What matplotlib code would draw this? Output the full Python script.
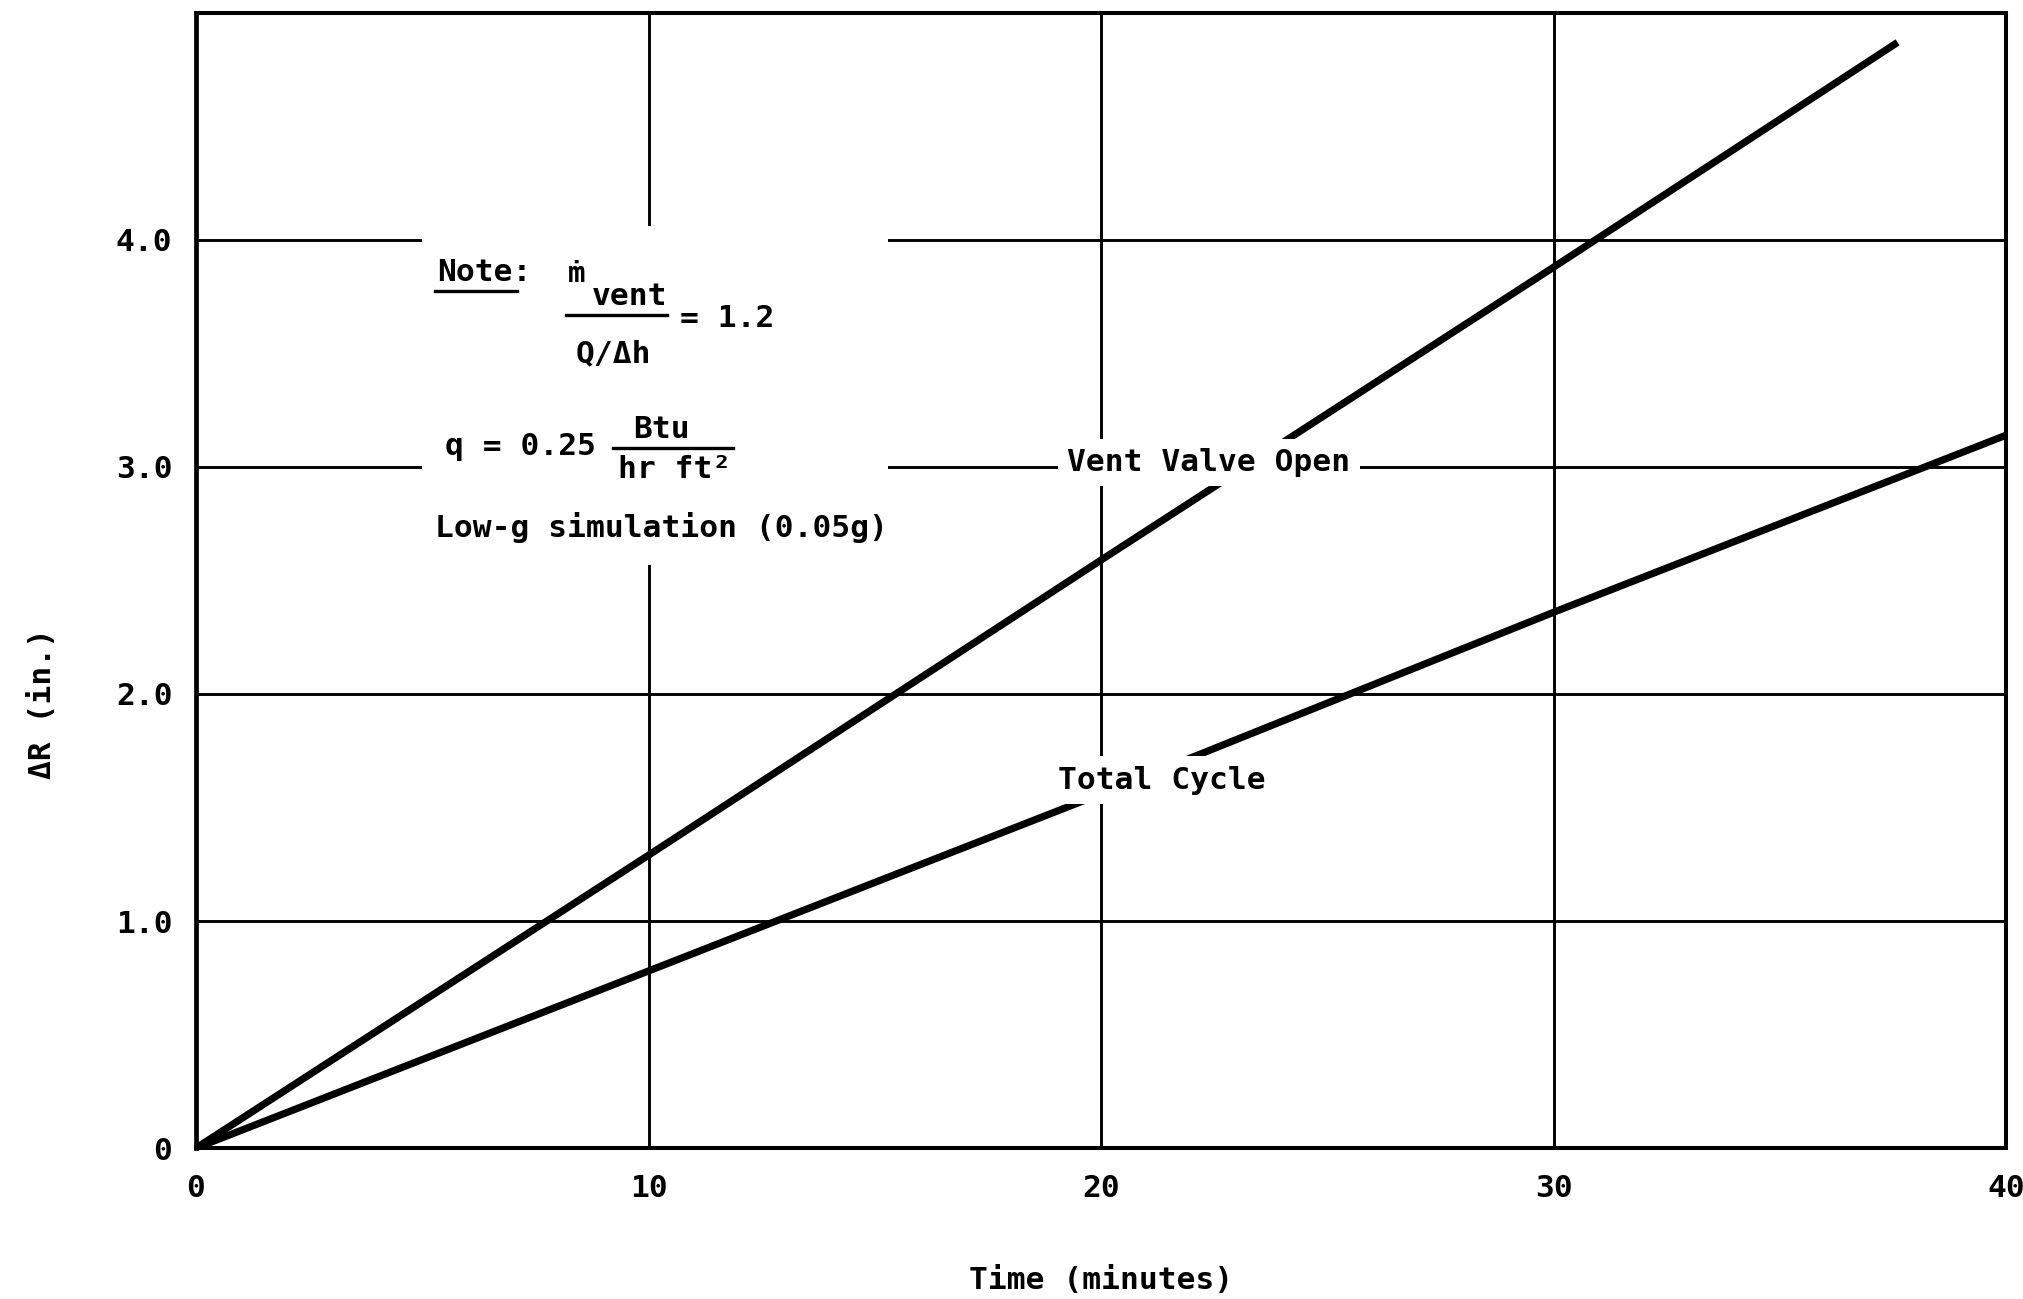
import numpy as np
import matplotlib
matplotlib.use('Agg')
import matplotlib.pyplot as plt
from matplotlib.patches import Rectangle

# --data--
vent_open_t = [0, 10, 20, 30, 37.6]
vent_open_dr = [0, 1.29, 2.59, 3.88, 4.87]

total_cycle_t = [0, 10, 20, 30, 40]
total_cycle_dr = [0, 0.78, 1.56, 2.36, 3.14]

x_ticks = [0, 10, 20, 30, 40]
x_tick_labels = ['0', '10', '20', '30', '40']
y_ticks = [0, 1, 2, 3, 4]
y_tick_labels = ['0', '1.0', '2.0', '3.0', '4.0']

MONO = ['DejaVu Sans Mono', 'DejaVu Sans']
FS = 22.5

plt.rcParams['font.family'] = MONO
plt.rcParams['font.weight'] = 'bold'
plt.rcParams['axes.labelweight'] = 'bold'

fig = plt.figure(figsize=(20.23, 12.99), dpi=100)
ax = fig.add_axes([0.0969, 0.1162, 0.8948, 0.8739])

ax.plot(vent_open_t, vent_open_dr, color='black', lw=5.2,
        solid_capstyle='butt', zorder=2)
ax.plot(total_cycle_t, total_cycle_dr, color='black', lw=5.2,
        solid_capstyle='butt', zorder=2)

ax.set_xlim(0, 40)
ax.set_ylim(0, 5)
ax.set_xticks(x_ticks)
ax.set_xticklabels(x_tick_labels)
ax.set_yticks(y_ticks)
ax.set_yticklabels(y_tick_labels)
ax.tick_params(axis='both', length=0, labelsize=FS)
ax.tick_params(axis='x', pad=19)
ax.tick_params(axis='y', pad=17)

ax.set_axisbelow(True)
ax.grid(True, color='black', lw=2.1)
for side in ['left', 'right', 'top', 'bottom']:
    ax.spines[side].set_linewidth(2.9)
ax.spines['left'].set_linewidth(3.4)

ax.set_xlabel('Time (minutes)', fontsize=FS, fontweight='bold')
ax.xaxis.set_label_coords(0.5, -0.104)
ax.set_ylabel('\u0394R (in.)', fontsize=FS, fontweight='bold')
ax.yaxis.set_label_coords(-0.077, 0.392)

# curve labels, white box breaks the grid and the curve
lbl_box = dict(facecolor='white', edgecolor='none', boxstyle='square,pad=0.3')
ax.text(22.38, 3.02, 'Vent Valve Open', fontsize=FS, ha='center', va='center',
        bbox=lbl_box, zorder=5)
ax.text(21.35, 1.62, 'Total Cycle', fontsize=FS, ha='center', va='center',
        bbox=lbl_box, zorder=5)

# note block (blank area over the grid)
ax.add_patch(Rectangle((5.0, 2.57), 10.3, 1.49, facecolor='white',
                       edgecolor='none', zorder=3))

ax.text(5.33, 3.858, 'Note:', fontsize=FS, ha='left', va='center', zorder=5)
ax.plot([5.27, 7.10], [3.773, 3.773], color='black', lw=2.4, zorder=5)

ax.text(8.40, 3.85, '\u1e41', fontsize=21, ha='center', va='center',
        family=MONO, zorder=5)
ax.text(8.75, 3.75, 'vent', fontsize=FS, ha='left', va='center', zorder=5)
ax.plot([8.18, 10.41], [3.67, 3.67], color='black', lw=2.4, zorder=5)
ax.text(10.69, 3.653, '= 1.2', fontsize=FS, ha='left', va='center', zorder=5)
ax.text(8.38, 3.50, 'Q/\u0394h', fontsize=FS, ha='left', va='center', zorder=5)

ax.text(5.50, 3.09, 'q = 0.25', fontsize=FS, ha='left', va='center', zorder=5)
ax.text(9.66, 3.165, 'Btu', fontsize=FS, ha='left', va='center', zorder=5)
ax.plot([9.21, 11.86], [3.085, 3.085], color='black', lw=2.4, zorder=5)
ax.text(9.32, 2.99, 'hr ft\u00b2', fontsize=FS, ha='left', va='center', zorder=5)

ax.text(5.27, 2.733, 'Low-g simulation (0.05g)', fontsize=FS, ha='left',
        va='center', zorder=5)

fig.savefig('out.png', dpi=100)
